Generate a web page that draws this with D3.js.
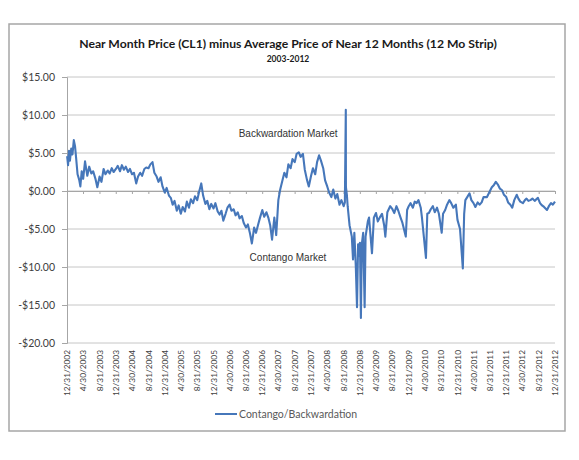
<!DOCTYPE html>
<html><head><meta charset="utf-8">
<script src="https://cdn.jsdelivr.net/npm/d3@7"></script>
<style>body{margin:0;background:#fff}svg{display:block}</style>
</head><body>
<svg id="c" width="579" height="460"></svg>
<script>
const titleText = "Near Month Price (CL1) minus Average Price of Near 12 Months (12 Mo Strip)";
const subtitleText = "2003-2012";
const seriesName = "Contango/Backwardation";
const yTicks = [15, 10, 5, 0, -5, -10, -15, -20];
const xTickLabels = ["12/31/2002","4/30/2003","8/31/2003","12/31/2003","4/30/2004","8/31/2004","12/31/2004","4/30/2005","8/31/2005","12/31/2005","4/30/2006","8/31/2006","12/31/2006","4/30/2007","8/31/2007","12/31/2007","4/30/2008","8/31/2008","12/31/2008","4/30/2009","8/31/2009","12/31/2009","4/30/2010","8/31/2010","12/31/2010","4/30/2011","8/31/2011","12/31/2011","4/30/2012","8/31/2012","12/31/2012"];
const annotations = [{text:"Backwardation Market", date:"2006-07-08", value:7.1}, {text:"Contango Market", date:"2006-09-28", value:-9.2}];

const dates = [
"2003-01-01","2003-01-08","2003-01-15","2003-01-22","2003-02-01","2003-02-10","2003-02-20","2003-03-01","2003-03-10","2003-03-20","2003-04-01","2003-04-10","2003-04-20","2003-05-01","2003-05-15","2003-06-01","2003-06-15","2003-07-01","2003-07-15","2003-08-01","2003-08-15","2003-09-01","2003-09-15","2003-10-01","2003-10-15","2003-11-01","2003-11-15","2003-12-01","2003-12-15",
"2004-01-01","2004-01-15","2004-02-01","2004-02-15","2004-03-01","2004-03-15","2004-04-01","2004-04-15","2004-05-01","2004-05-15","2004-06-01","2004-06-15","2004-07-01","2004-07-15","2004-08-01","2004-08-15","2004-09-01","2004-09-15","2004-10-01","2004-10-15","2004-11-01","2004-11-15","2004-12-01","2004-12-15",
"2005-01-01","2005-01-15","2005-02-01","2005-02-15","2005-03-01","2005-03-15","2005-04-01","2005-04-15","2005-05-01","2005-05-15","2005-06-01","2005-06-15","2005-07-01","2005-07-15","2005-08-01","2005-08-15","2005-09-01","2005-09-15","2005-10-01","2005-10-15","2005-11-01","2005-11-15","2005-12-01","2005-12-15",
"2006-01-01","2006-01-15","2006-02-01","2006-02-15","2006-03-01","2006-03-15","2006-04-01","2006-04-15","2006-05-01","2006-05-15","2006-06-01","2006-06-15","2006-07-01","2006-07-15","2006-08-01","2006-08-15","2006-09-01","2006-09-15","2006-10-01","2006-10-15","2006-11-01","2006-11-15","2006-12-01","2006-12-15",
"2007-01-01","2007-01-15","2007-02-01","2007-02-15","2007-03-01","2007-03-15","2007-04-01","2007-04-15","2007-05-01","2007-05-15","2007-06-01","2007-06-15","2007-07-01","2007-07-15","2007-08-01","2007-08-15","2007-09-01","2007-09-15","2007-10-01","2007-10-15","2007-11-01","2007-11-15","2007-12-01","2007-12-15",
"2008-01-01","2008-01-15","2008-02-01","2008-02-15","2008-03-01","2008-03-15","2008-04-01","2008-04-15","2008-05-01","2008-05-15","2008-06-01","2008-06-15","2008-07-01","2008-07-15","2008-08-01","2008-08-15","2008-09-01","2008-09-10","2008-09-17","2008-09-18","2008-09-25","2008-10-01","2008-10-15","2008-11-01","2008-11-10","2008-11-20","2008-12-01","2008-12-10","2008-12-18","2008-12-25",
"2009-01-01","2009-01-08","2009-01-15","2009-01-25","2009-02-05","2009-02-12","2009-03-01","2009-03-10","2009-04-01","2009-04-15","2009-05-01","2009-05-15","2009-06-01","2009-06-15","2009-07-01","2009-07-10","2009-07-25","2009-08-15","2009-09-01","2009-09-15","2009-10-01","2009-10-15","2009-11-01","2009-11-15","2009-12-10","2009-12-20",
"2010-01-01","2010-01-15","2010-02-01","2010-02-15","2010-03-01","2010-03-15","2010-04-01","2010-04-10","2010-05-10","2010-05-20","2010-06-01","2010-06-15","2010-07-01","2010-07-15","2010-08-01","2010-08-15","2010-09-05","2010-09-15","2010-10-01","2010-10-15","2010-11-01","2010-11-15","2010-12-01","2010-12-20",
"2011-01-01","2011-01-20","2011-02-10","2011-02-20","2011-03-01","2011-03-15","2011-04-01","2011-04-15","2011-05-01","2011-05-15","2011-06-01","2011-06-15","2011-07-01","2011-07-15","2011-08-10","2011-09-01","2011-09-15","2011-10-01","2011-10-15","2011-11-01","2011-11-15","2011-12-01","2011-12-15",
"2012-01-01","2012-01-15","2012-02-01","2012-02-15","2012-03-01","2012-03-20","2012-04-01","2012-04-15","2012-05-05","2012-05-20","2012-06-01","2012-06-15","2012-06-30","2012-07-15","2012-08-01","2012-08-25","2012-09-10","2012-09-25","2012-10-10","2012-11-01","2012-11-15","2012-12-01","2012-12-15","2012-12-31"
];
const values = [
4.6,3.4,5.3,4.0,5.6,4.8,6.7,5.9,4.2,2.2,1.5,0.6,2.6,1.6,3.9,2.0,3.2,2.3,2.6,1.6,0.5,1.9,1.2,2.9,2.2,2.7,2.3,3.0,2.5,
2.9,3.3,2.6,3.4,2.8,3.2,2.5,2.9,2.2,2.4,1.0,1.9,2.4,2.0,2.9,3.1,3.0,3.5,3.8,2.4,1.9,1.2,1.8,0.6,
-0.2,0.4,-0.6,-0.9,-1.8,-1.3,-2.6,-1.9,-3.0,-2.1,-2.7,-1.4,-2.2,-1.1,-1.6,-0.7,-1.2,-0.1,1.0,-0.6,-1.7,-1.3,-2.4,-1.7,
-2.3,-1.6,-2.7,-3.1,-2.6,-3.9,-3.0,-2.2,-1.8,-2.6,-2.4,-3.2,-2.8,-3.6,-3.3,-4.2,-4.8,-4.4,-5.6,-6.9,-4.8,-5.5,-4.4,-3.5,
-2.5,-3.4,-2.8,-3.5,-4.5,-6.4,-3.5,-5.8,-1.2,0.2,1.4,2.4,1.8,3.5,3.0,4.2,3.8,4.9,5.1,4.5,4.9,2.8,1.5,0.6,
2.0,3.0,2.2,3.8,4.7,4.0,3.0,1.4,0.6,-0.2,-0.8,0.2,-1.0,-0.4,-1.8,-1.2,-2.0,-1.5,10.7,0.5,-0.5,-2.0,-4.5,-6.0,-9.0,-5.5,-10.0,-15.3,-7.0,-8.5,
-6.8,-16.7,-7.0,-5.5,-15.3,-6.0,-4.0,-3.5,-8.2,-3.5,-2.9,-4.0,-3.4,-3.0,-4.5,-6.0,-2.8,-2.0,-2.4,-2.9,-2.0,-2.6,-3.5,-4.2,-6.0,-2.5,
-2.0,-1.6,-2.2,-1.4,-1.6,-1.2,-2.2,-3.5,-8.8,-3.0,-2.9,-2.4,-2.0,-2.8,-2.2,-3.0,-5.5,-3.0,-2.5,-1.8,-1.2,-1.6,-2.2,-1.8,
-3.8,-5.0,-10.2,-3.0,-1.2,-0.8,-0.3,-1.2,-1.6,-2.1,-1.5,-1.8,-1.5,-0.8,-0.8,0.0,0.5,0.8,1.2,0.8,0.3,0.1,-0.5,
-0.8,-1.5,-1.8,-2.2,-1.2,-0.5,-1.0,-1.4,-1.6,-1.2,-1.0,-1.3,-1.2,-1.0,-1.3,-0.9,-1.6,-1.9,-2.1,-2.5,-2.0,-1.6,-1.8,-1.4
];

const svg = d3.select("#c");
const parseISO = d3.timeParse("%Y-%m-%d");
const parseUS = d3.timeParse("%m/%d/%Y");
const data = dates.map((d,i)=>({date:parseISO(d), value:values[i]}));

const pL = 67, pR = 555, pT = 77, pB = 343;
const x = d3.scaleTime().domain([parseUS("12/31/2002"), parseUS("12/31/2012")]).range([pL, pR]);
const y = d3.scaleLinear().domain([-20, 15]).range([pB, pT]);

// frame
svg.append("rect").attr("x",9).attr("y",24).attr("width",556).attr("height",407)
  .attr("fill","#fff").attr("stroke","#a6a6a6").attr("stroke-width",1.5);

// titles
const t = svg.append("text").attr("x",288).attr("y",48).attr("text-anchor","middle")
  .attr("font-family","Lato, 'Open Sans', sans-serif").attr("font-weight","bold").attr("font-size",12)
  .attr("fill","#1a1a1a").text(titleText);
const tw = t.node().getComputedTextLength();
if (tw > 0) t.attr("font-size", 12*418/tw);
svg.append("text").attr("x",288).attr("y",62).attr("text-anchor","middle")
  .attr("font-family","Lato, 'Open Sans', sans-serif").attr("font-weight","bold").attr("font-size",8.5)
  .attr("fill","#1a1a1a").text(subtitleText);

// gridlines
svg.append("g").selectAll("line").data(yTicks).join("line")
  .attr("x1",pL).attr("x2",pR).attr("y1",d=>y(d)).attr("y2",d=>y(d))
  .attr("stroke","#c6c6c6").attr("stroke-width",1);

// y axis
const yAxis = svg.append("g").attr("transform",`translate(${pL},0)`)
  .call(d3.axisLeft(y).tickValues(yTicks).tickSize(5).tickPadding(7)
    .tickFormat(d => (d<0?"-":"") + "$" + Math.abs(d).toFixed(2)));
yAxis.select(".domain").attr("stroke","#a6a6a6");
yAxis.selectAll(".tick line").attr("stroke","#a6a6a6");
yAxis.selectAll("text").attr("font-family","Lato, 'Open Sans', sans-serif").attr("font-size",10.5).attr("fill","#404040");

// x axis at zero (ticks), labels at bottom
const xDates = xTickLabels.map(parseUS);
const xAxis0 = svg.append("g").attr("transform",`translate(0,${y(0)})`)
  .call(d3.axisBottom(x).tickValues(xDates).tickSize(3).tickFormat(""));
xAxis0.select(".domain").attr("stroke","#a6a6a6");
xAxis0.selectAll(".tick line").attr("stroke","#a6a6a6");

const xLab = svg.append("g").attr("transform",`translate(0,${pB})`)
  .call(d3.axisBottom(x).tickValues(xDates).tickSize(0).tickFormat((d,i)=>xTickLabels[i]));
xLab.select(".domain").remove();
xLab.selectAll("text").attr("font-family","Lato, 'Open Sans', sans-serif").attr("font-size",8.3)
  .attr("fill","#404040").attr("text-anchor","end")
  .attr("transform","rotate(-90)").attr("x",-7).attr("y",0).attr("dy","0.32em");

// line
const line = d3.line().x(d=>x(d.date)).y(d=>y(d.value));
svg.append("path").datum(data).attr("d",line).attr("fill","none")
  .attr("stroke","#4677ba").attr("stroke-width",2.1).attr("stroke-linejoin","round");

// annotations
svg.append("g").selectAll("text").data(annotations).join("text")
  .attr("x",d=>x(parseISO(d.date))).attr("y",d=>y(d.value))
  .attr("font-family","'Liberation Sans', Arial, sans-serif").attr("font-size",10)
  .attr("fill","#333").text(d=>d.text);

// legend
const lg = svg.append("g").attr("transform","translate(215,414)");
lg.append("line").attr("x1",0).attr("x2",22).attr("y1",0).attr("y2",0).attr("stroke","#4677ba").attr("stroke-width",2);
lg.append("text").attr("x",24).attr("y",0).attr("dy","0.35em")
  .attr("font-family","Lato, 'Open Sans', sans-serif").attr("font-size",10.5).attr("fill","#595959").text(seriesName);
</script>
</body></html>
